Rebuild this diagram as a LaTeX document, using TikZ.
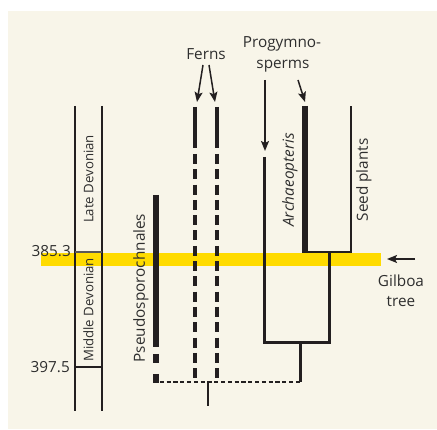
\documentclass[tikz,border=0pt]{standalone}
\usepackage{fontspec}
\setmainfont{Open Sans}
\usetikzlibrary{arrows.meta}
\definecolor{cream}{HTML}{F8F5E9}
\definecolor{gold}{HTML}{FFDB00}
\definecolor{ink}{HTML}{231F20}
\definecolor{txt}{HTML}{2E2E2E}
\tikzset{
  lbl/.style={text=txt,font=\fontsize{15.3}{17}\selectfont,inner sep=0pt,align=center},
  eralbl/.style={text=txt,font=\fontsize{13.2}{14}\selectfont,inner sep=0pt,rotate=90},
  vlbl/.style={lbl,rotate=90},
  axisline/.style={draw=ink,line width=1.5pt},
  branch/.style={draw=ink,line width=3pt},
  thinbranch/.style={draw=ink,line width=2.3pt},
  thickbar/.style={draw=ink,line width=6pt},
  fernbar/.style={draw=ink,line width=4.3pt},
  pointer/.style={draw=ink,line width=1.5pt,-{Stealth[length=10pt,width=8pt,inset=2pt]}},
  dashlink/.style={draw=ink,line width=2.3pt,dash pattern=on 4.2pt off 2.6pt},
}
\begin{document}
\begin{tikzpicture}[x=1pt,y=-1pt]
\useasboundingbox (0,0) rectangle (437,430);
\fill[cream] (8,11) rectangle (437,429.5);
% yellow band
\fill[gold] (41,253) rectangle (381,266);
% time axis
\coordinate (axLt) at (75,106); \coordinate (axLb) at (75,411);
\coordinate (axRt) at (102,106); \coordinate (axRb) at (102,411);
\draw[axisline] (axLt) -- (axLb);
\draw[axisline] (axRt) -- (axRb);
\coordinate (t1l) at (75,252); \coordinate (t1r) at (102,252);
\coordinate (t2l) at (75,367); \coordinate (t2r) at (102,367);
\draw[axisline,draw=ink!75,line width=2pt] (t1l) -- (t1r);
\draw[axisline] (t2l) -- (t2r);
\node[lbl,anchor=east] (n385) at (71,251) {385.3};
\node[lbl,anchor=east] (n397) at (70,367) {397.5};
\node[eralbl] (late) at (88.5,179) {Late Devonian};
\node[eralbl] (mid) at (88.5,310) {Middle Devonian};
% root and basal dashed link
\coordinate (psL) at (156,382);
\coordinate (rootTop) at (208,382);
\coordinate (rootBot) at (208,406);
\coordinate (progJoin) at (300,382);
\draw[dashlink] (153,382) -- (progJoin);
\draw[thinbranch] (rootTop) -- (rootBot);
% Pseudosporochnales
\coordinate (psTop) at (156,195);
\coordinate (psSolidEnd) at (156,347);
\draw[thickbar] (psTop) -- (psSolidEnd);
\draw[thickbar] (156,354) -- (156,363);
\draw[thickbar] (156,374) -- (156,383);
\node[vlbl] (pseudo) at (141,288) {Pseudosporochnales};
% Ferns
\foreach \fx/\nm in {195/fa,217/fb}{
  \coordinate (\nm top) at (\fx,107);
  \coordinate (\nm mid) at (\fx,148);
  \coordinate (\nm bot) at (\fx,381);
  \draw[fernbar] (\nm top) -- (\nm mid);
  \draw[fernbar,dash pattern=on 10pt off 5.3pt] (\fx,154) -- (\nm bot);
}
\node[lbl] (ferns) at (206,54) {Ferns};
\coordinate (fa1) at (203,65); \coordinate (fa2) at (197,102);
\coordinate (fb1) at (209,65); \coordinate (fb2) at (215,102);
\draw[pointer] (fa1) -- (fa2);
\draw[pointer] (fb1) -- (fb2);
% Progymnosperms + seed plants
\coordinate (pgTop) at (264,157);
\coordinate (pgCorner) at (264,343);
\coordinate (pgRight) at (329,343);
\coordinate (spJoin) at (329,252);
\coordinate (pgMid) at (300,343);
\draw[branch,line join=miter] (pgTop) -- (pgCorner) -- (pgRight) -- (spJoin);
\draw[branch] (pgMid) -- (progJoin);
\coordinate (arTop) at (305,106);
\coordinate (arBot) at (305,253.5);
\coordinate (seTop) at (351,106);
\coordinate (seBot) at (351,252);
\draw[thickbar] (arTop) -- (arBot);
\draw[thinbranch,line join=miter] (302.5,252) -- (seBot) -- (seTop);
\node[vlbl,font=\fontsize{15.3}{17}\selectfont\itshape] (archae) at (290,180) {Archaeopteris};
\node[vlbl] (seed) at (364,180) {Seed plants};
\node[lbl] (prog) at (282,43.5) {Progymno-};
\node[lbl] (sperms) at (283,66) {sperms};
\coordinate (pa1) at (265,80); \coordinate (pa2) at (265,151);
\coordinate (pb1) at (298,80); \coordinate (pb2) at (305,102);
\draw[pointer] (pa1) -- (pa2);
\draw[pointer] (pb1) -- (pb2);
% Gilboa tree
\coordinate (g1) at (415,259); \coordinate (g2) at (387,259);
\draw[pointer] (g1) -- (g2);
\node[lbl] (gilboa) at (401,281) {Gilboa};
\node[lbl] (tree) at (401,302) {tree};
\end{tikzpicture}
\end{document}
